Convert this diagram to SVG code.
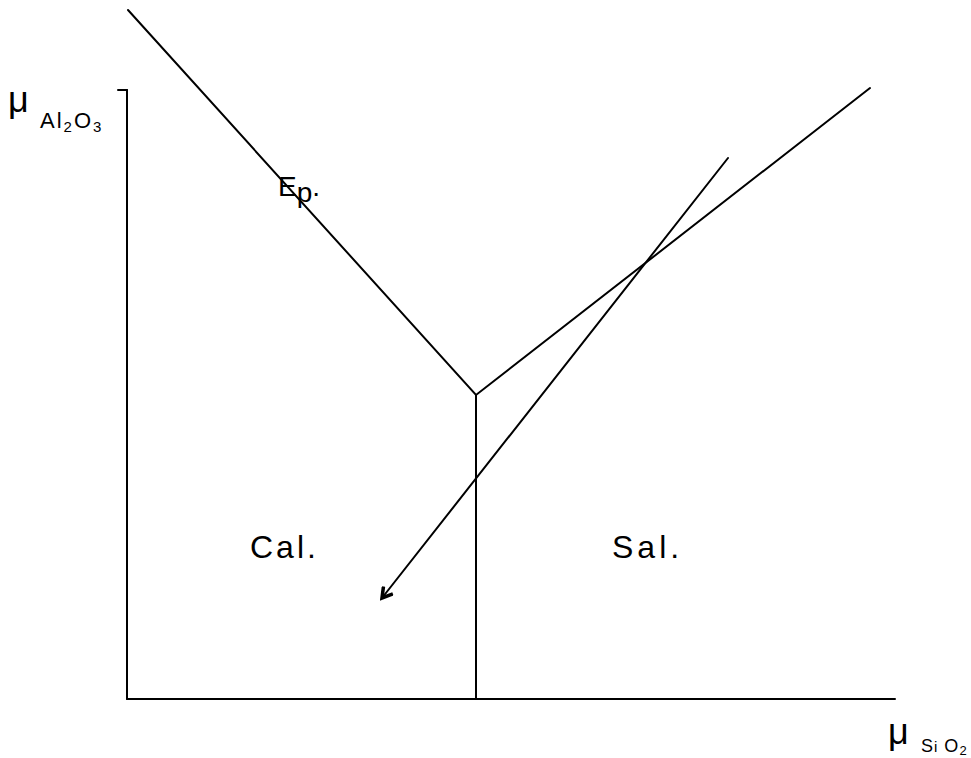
<svg xmlns="http://www.w3.org/2000/svg" width="971" height="758" viewBox="0 0 971 758">
<style>
.ln{stroke:#000;stroke-width:2;fill:none;stroke-linecap:round}
.t{font-family:"Liberation Sans",Arial,sans-serif;fill:#000}
</style>
<defs>
<marker id="ah" markerWidth="14" markerHeight="14" refX="11" refY="7" orient="auto" markerUnits="userSpaceOnUse">
<path d="M1,1 L11,7 L1,13" fill="none" stroke="#000" stroke-width="3.5"/>
</marker>
</defs>
<rect width="971" height="758" fill="#fff"/>
<g id="axes">
<line class="ln" x1="127" y1="90" x2="127" y2="699"/>
<line class="ln" x1="118" y1="90" x2="127" y2="90"/>
<line class="ln" x1="127" y1="699" x2="895" y2="699"/>
</g>
<g id="connectors">
<polyline class="ln" points="128,10 476,395 870,88"/>
<line class="ln" x1="476" y1="395" x2="476" y2="699"/>
<line class="ln" x1="728" y1="158" x2="382" y2="598" marker-end="url(#ah)"/>
</g>
<g id="label-y">
<text class="t" x="8" y="112" font-size="36">μ</text>
<text class="t" x="40" y="128" font-size="22" letter-spacing="2">Al<tspan font-size="15" dy="4">2</tspan><tspan dy="-4">O</tspan><tspan font-size="15" dy="4">3</tspan></text>
</g>
<g id="label-x">
<text class="t" x="888" y="744" font-size="36">μ</text>
<text class="t" x="921" y="752" font-size="18" letter-spacing="1">S<tspan font-size="15">i</tspan> O<tspan font-size="13" dy="3">2</tspan></text>
</g>
<g id="node-ep"><text class="t" x="278" y="196" font-size="28">E<tspan dy="6">p</tspan><tspan dy="-6">.</tspan></text></g>
<g id="node-cal"><text class="t" x="250" y="558" font-size="32" letter-spacing="3">Cal.</text></g>
<g id="node-sal"><text class="t" x="612" y="558" font-size="32" letter-spacing="4">Sal.</text></g>
</svg>
